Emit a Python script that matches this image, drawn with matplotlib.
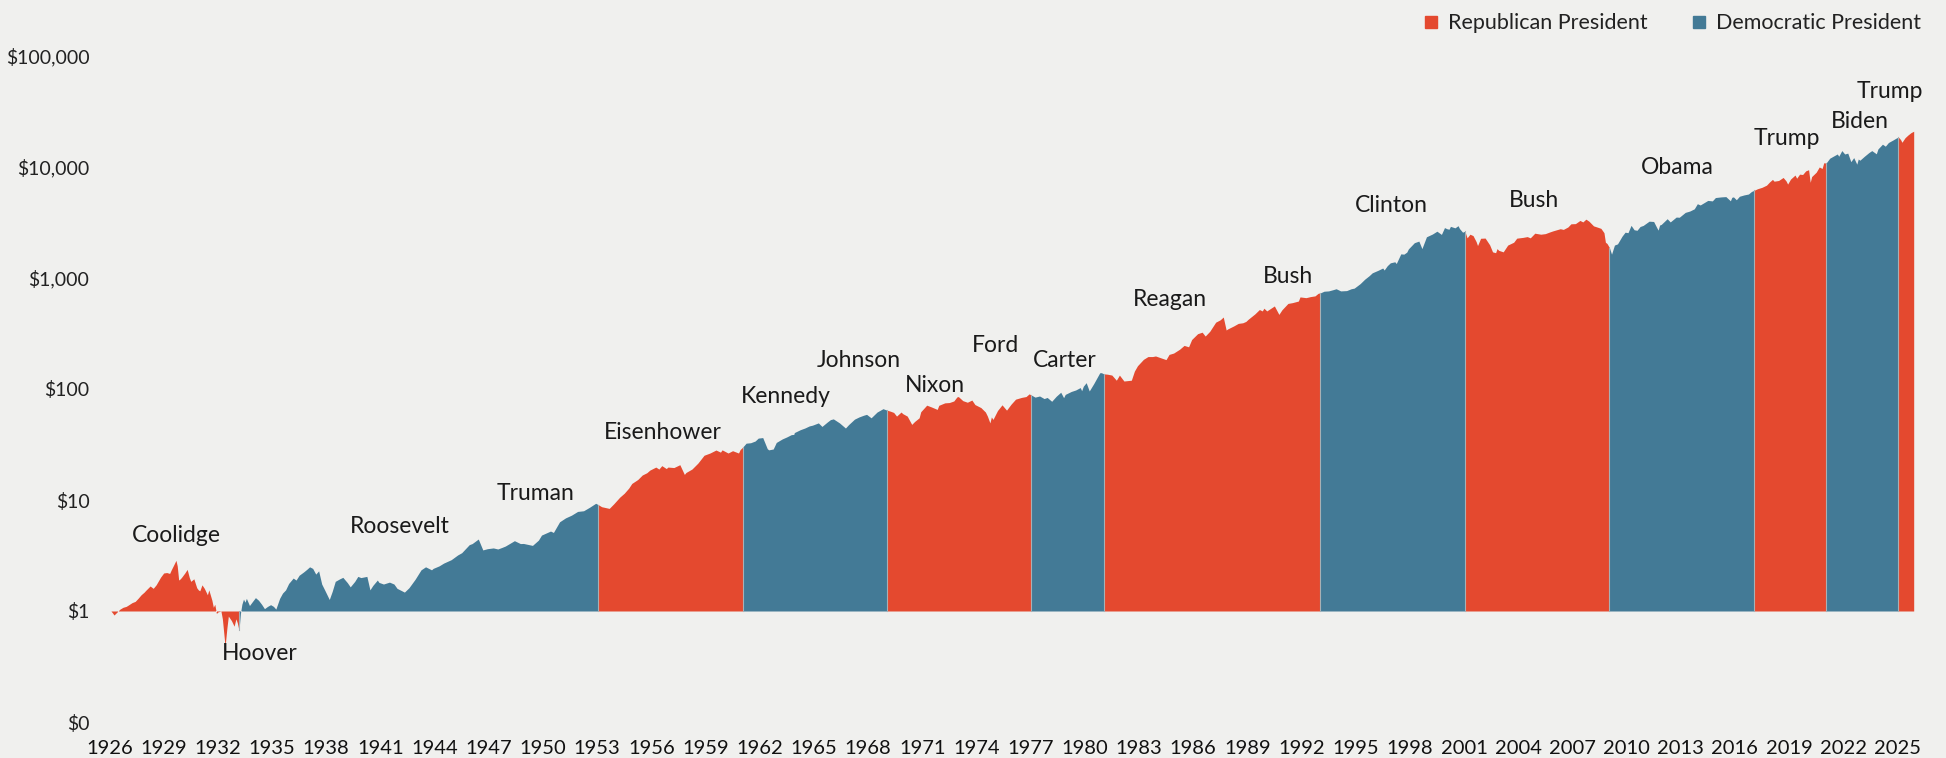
import numpy as np
import matplotlib.pyplot as plt
from matplotlib.lines import Line2D
from matplotlib.ticker import NullLocator

plt.rcParams['font.family'] = ['Lato', 'DejaVu Sans']

RED = '#E4492F'
BLUE = '#437A96'
BG = '#F0F0EE'

# growth of $1 invested in Jan 1926 (log scale)
dates = [
    1926.08, 1926.17, 1926.25, 1926.42, 1926.58, 1926.75, 1926.92,
    1927.00, 1927.25, 1927.42, 1927.58, 1927.75, 1927.92,
    1928.00, 1928.25, 1928.42, 1928.58, 1928.83,
    1929.00, 1929.17, 1929.33, 1929.42, 1929.58, 1929.68, 1929.75, 1929.83, 1929.92,
    1930.00, 1930.17, 1930.30, 1930.42, 1930.50, 1930.67, 1930.83, 1930.92,
    1931.00, 1931.12, 1931.25, 1931.42, 1931.50, 1931.67, 1931.75, 1931.83, 1931.92,
    1932.00, 1932.17, 1932.25, 1932.40, 1932.50, 1932.58, 1932.75, 1932.90,
    1933.00, 1933.08, 1933.17, 1933.25, 1933.33, 1933.42, 1933.50, 1933.58, 1933.75, 1933.92,
    1934.08, 1934.25, 1934.42, 1934.58, 1934.75, 1934.92,
    1935.08, 1935.21, 1935.42, 1935.58, 1935.75, 1935.92,
    1936.17, 1936.33, 1936.50, 1936.75, 1936.92,
    1937.08, 1937.25, 1937.42, 1937.58, 1937.75, 1937.92,
    1938.17, 1938.33, 1938.50, 1938.75, 1938.92,
    1939.17, 1939.33, 1939.58, 1939.75, 1939.92,
    1940.25, 1940.42, 1940.58, 1940.83, 1940.92,
    1941.17, 1941.50, 1941.75, 1941.92,
    1942.33, 1942.58, 1942.92,
    1943.25, 1943.50, 1943.83, 1943.92,
    1944.25, 1944.50, 1944.92,
    1945.28, 1945.50, 1945.92,
    1946.08, 1946.42, 1946.67, 1946.92,
    1947.25, 1947.50, 1947.75, 1947.92,
    1948.42, 1948.75, 1948.92,
    1949.42, 1949.75, 1949.92,
    1950.42, 1950.58, 1950.92,
    1951.25, 1951.58, 1951.92,
    1952.25, 1952.58, 1952.92,
    1953.05, 1953.25, 1953.67, 1953.92,
    1954.25, 1954.50, 1954.75, 1954.92,
    1955.25, 1955.50, 1955.75, 1955.92,
    1956.25, 1956.42, 1956.58, 1956.83, 1956.92,
    1957.25, 1957.58, 1957.83, 1957.92,
    1958.25, 1958.58, 1958.92,
    1959.25, 1959.58, 1959.83, 1959.92,
    1960.25, 1960.50, 1960.83, 1960.92,
    1961.05, 1961.25, 1961.50, 1961.75, 1961.92,
    1962.17, 1962.42, 1962.50, 1962.75, 1962.92,
    1963.25, 1963.50, 1963.75, 1963.89, 1963.92,
    1964.25, 1964.50, 1964.75, 1964.92,
    1965.25, 1965.45, 1965.75, 1965.92,
    1966.08, 1966.42, 1966.75, 1966.92,
    1967.25, 1967.50, 1967.75, 1967.92,
    1968.17, 1968.50, 1968.83, 1968.92,
    1969.05, 1969.25, 1969.42, 1969.58, 1969.83, 1969.92,
    1970.17, 1970.42, 1970.58, 1970.83, 1970.92,
    1971.25, 1971.50, 1971.83, 1971.92,
    1972.25, 1972.50, 1972.75, 1972.92,
    1973.00, 1973.25, 1973.50, 1973.75, 1973.92,
    1974.25, 1974.50, 1974.61, 1974.75, 1974.83, 1974.92,
    1975.17, 1975.42, 1975.67, 1975.92,
    1976.17, 1976.50, 1976.75, 1976.92,
    1977.05, 1977.25, 1977.50, 1977.75, 1977.92,
    1978.17, 1978.42, 1978.67, 1978.83, 1978.92,
    1979.25, 1979.50, 1979.75, 1979.83, 1979.92,
    1980.08, 1980.25, 1980.50, 1980.83, 1980.92,
    1981.05, 1981.25, 1981.50, 1981.75, 1981.92,
    1982.17, 1982.58, 1982.75, 1982.92,
    1983.25, 1983.50, 1983.75, 1983.92,
    1984.25, 1984.50, 1984.67, 1984.92,
    1985.25, 1985.50, 1985.75, 1985.92,
    1986.25, 1986.50, 1986.67, 1986.92,
    1987.25, 1987.50, 1987.67, 1987.83, 1987.92,
    1988.25, 1988.50, 1988.75, 1988.92,
    1989.05, 1989.42, 1989.67, 1989.83, 1989.92,
    1990.08, 1990.50, 1990.75, 1990.92,
    1991.25, 1991.50, 1991.83, 1991.92,
    1992.25, 1992.50, 1992.75, 1992.92,
    1993.05, 1993.25, 1993.50, 1993.75, 1993.92,
    1994.17, 1994.50, 1994.75, 1994.92,
    1995.25, 1995.50, 1995.75, 1995.92,
    1996.25, 1996.50, 1996.58, 1996.75, 1996.92,
    1997.17, 1997.25, 1997.50, 1997.67, 1997.83, 1997.92,
    1998.25, 1998.50, 1998.67, 1998.83, 1998.92,
    1999.25, 1999.50, 1999.75, 1999.92,
    2000.05, 2000.17, 2000.25, 2000.50, 2000.67, 2000.75, 2000.92,
    2001.05, 2001.17, 2001.33, 2001.50, 2001.67, 2001.75, 2001.92,
    2002.17, 2002.42, 2002.58, 2002.75, 2002.83, 2002.92,
    2003.17, 2003.42, 2003.75, 2003.92,
    2004.25, 2004.50, 2004.67, 2004.92,
    2005.25, 2005.50, 2005.75, 2005.92,
    2006.33, 2006.50, 2006.75, 2006.92,
    2007.17, 2007.42, 2007.58, 2007.75, 2007.92,
    2008.17, 2008.42, 2008.58, 2008.75, 2008.83, 2008.92,
    2009.05, 2009.17, 2009.33, 2009.50, 2009.75, 2009.92,
    2010.08, 2010.25, 2010.42, 2010.58, 2010.75, 2010.92,
    2011.25, 2011.50, 2011.67, 2011.75, 2011.83, 2011.92,
    2012.25, 2012.42, 2012.75, 2012.92,
    2013.25, 2013.50, 2013.75, 2013.92,
    2014.08, 2014.50, 2014.75, 2014.92,
    2015.25, 2015.50, 2015.67, 2015.75, 2015.83, 2015.92,
    2016.08, 2016.25, 2016.50, 2016.75, 2016.92,
    2017.05, 2017.25, 2017.50, 2017.75, 2017.92,
    2018.08, 2018.17, 2018.42, 2018.67, 2018.83, 2018.92,
    2019.08, 2019.33, 2019.42, 2019.58, 2019.75, 2019.92,
    2020.08, 2020.17, 2020.25, 2020.50, 2020.67, 2020.83, 2020.92,
    2021.05, 2021.25, 2021.50, 2021.67, 2021.75, 2021.92,
    2022.08, 2022.25, 2022.42, 2022.58, 2022.75, 2022.83, 2022.92,
    2023.17, 2023.42, 2023.58, 2023.83, 2023.92,
    2024.17, 2024.33, 2024.50, 2024.75, 2024.92,
    2025.05, 2025.17, 2025.25, 2025.42, 2025.58, 2025.75, 2025.90,
]
growth = [
    1.00, 0.96, 0.92, 0.98, 1.04, 1.08, 1.10,
    1.12, 1.19, 1.22, 1.30, 1.40, 1.48,
    1.53, 1.68, 1.60, 1.72, 2.02,
    2.20, 2.22, 2.18, 2.35, 2.65, 2.86, 2.55, 1.90, 1.95,
    2.02, 2.20, 2.37, 2.00, 1.85, 1.95, 1.62, 1.55,
    1.52, 1.72, 1.60, 1.40, 1.55, 1.25, 1.08, 1.15, 0.95,
    0.98, 1.00, 0.85, 0.48, 0.70, 0.90, 0.82, 0.73,
    0.85, 0.78, 0.67, 0.95, 1.15, 1.28, 1.20, 1.30, 1.12, 1.22,
    1.32, 1.25, 1.15, 1.05, 1.10, 1.14,
    1.10, 1.04, 1.30, 1.45, 1.55, 1.77,
    1.98, 1.90, 2.10, 2.25, 2.37,
    2.50, 2.42, 2.15, 2.30, 1.75, 1.54,
    1.27, 1.50, 1.85, 1.95, 2.01,
    1.80, 1.65, 1.85, 2.05, 2.00,
    2.05, 1.55, 1.70, 1.90, 1.81,
    1.75, 1.82, 1.75, 1.60,
    1.48, 1.62, 1.93,
    2.35, 2.50, 2.35, 2.42,
    2.55, 2.70, 2.90,
    3.20, 3.35, 3.96,
    4.05, 4.45, 3.55, 3.64,
    3.70, 3.62, 3.75, 3.85,
    4.30, 4.05, 4.06,
    3.90, 4.35, 4.83,
    5.25, 5.10, 6.36,
    6.90, 7.30, 7.89,
    8.00, 8.60, 9.34,
    9.10, 8.70, 8.40, 9.24,
    10.6, 11.5, 12.8, 14.1,
    15.3, 16.8, 17.6, 18.6,
    19.8, 19.0, 20.4, 19.2, 19.8,
    19.6, 20.8, 17.0, 17.7,
    19.0, 21.5, 25.3,
    26.5, 28.2, 27.0, 28.3,
    26.5, 27.8, 26.5, 28.5,
    29.8, 32.5, 32.8, 34.0, 36.1,
    36.5, 29.0, 28.3, 28.8, 33.0,
    35.5, 37.0, 38.8, 39.0, 40.5,
    43.0, 44.5, 46.5, 47.2,
    49.5, 46.0, 50.5, 53.0,
    53.8, 49.5, 44.5, 47.7,
    53.5, 56.0, 58.0, 59.1,
    55.0, 62.0, 66.5, 65.6,
    64.5, 63.0, 61.5, 57.0, 62.0, 60.0,
    57.0, 48.0, 51.0, 55.0, 62.4,
    71.5, 69.0, 65.5, 71.3,
    75.0, 75.5, 78.0, 84.8,
    85.5, 78.5, 76.0, 79.5, 72.4,
    68.0, 62.0, 57.0, 49.5, 56.0, 53.2,
    64.0, 72.0, 64.5, 73.0,
    81.0, 84.0, 85.5, 90.4,
    88.0, 84.5, 86.5, 82.0, 83.9,
    77.5, 86.0, 93.5, 83.5, 89.4,
    95.0, 98.0, 103.0, 96.5, 105.9,
    114.0, 96.0, 112.0, 140.0, 140.3,
    137.0, 136.0, 133.5, 120.0, 133.4,
    118.0, 120.0, 145.0, 162.0,
    185.0, 196.0, 196.0, 198.4,
    190.0, 184.0, 205.0, 210.7,
    228.0, 247.0, 240.0, 279.1,
    315.0, 325.0, 300.0, 330.7,
    400.0, 420.0, 445.0, 340.0, 348.0,
    370.0, 390.0, 395.0, 406.1,
    425.0, 475.0, 520.0, 505.0, 534.5,
    505.0, 560.0, 470.0, 517.5,
    590.0, 600.0, 620.0, 675.6,
    665.0, 680.0, 690.0, 727.4,
    735.0, 760.0, 765.0, 785.0, 800.1,
    765.0, 770.0, 800.0, 810.5,
    890.0, 975.0, 1050.0, 1113.9,
    1175.0, 1230.0, 1180.0, 1290.0, 1370.0,
    1400.0, 1350.0, 1650.0, 1640.0, 1710.0, 1828.3,
    2080.0, 2150.0, 1840.0, 2150.0, 2350.8,
    2490.0, 2640.0, 2470.0, 2845.6,
    2780.0, 2750.0, 2920.0, 2830.0, 2960.0, 2790.0, 2586.5,
    2640.0, 2300.0, 2480.0, 2410.0, 2130.0, 1960.0, 2279.1,
    2290.0, 1990.0, 1720.0, 1690.0, 1840.0, 1775.3,
    1720.0, 1980.0, 2100.0, 2284.8,
    2320.0, 2360.0, 2300.0, 2533.2,
    2480.0, 2510.0, 2600.0, 2657.6,
    2780.0, 2740.0, 2880.0, 3077.3,
    3090.0, 3300.0, 3200.0, 3390.0, 3246.3,
    2950.0, 2860.0, 2800.0, 2560.0, 2100.0, 2045.3,
    1880.0, 1640.0, 1980.0, 2030.0, 2380.0, 2586.5,
    2560.0, 2980.0, 2720.0, 2690.0, 2910.0, 2976.2,
    3250.0, 3230.0, 2850.0, 2700.0, 3000.0, 3039.1,
    3420.0, 3200.0, 3540.0, 3525.6,
    3900.0, 4010.0, 4200.0, 4667.6,
    4550.0, 5000.0, 4950.0, 5306.3,
    5380.0, 5410.0, 5100.0, 4960.0, 5330.0, 5379.9,
    5070.0, 5450.0, 5600.0, 5710.0, 6023.3,
    6150.0, 6370.0, 6560.0, 6860.0, 7338.0,
    7730.0, 7450.0, 7560.0, 8050.0, 7500.0, 7016.4,
    7780.0, 8460.0, 7920.0, 8620.0, 8560.0, 9225.5,
    9450.0, 7280.0, 8200.0, 8970.0, 10000.0, 9700.0, 10922.7,
    10850.0, 12000.0, 12650.0, 13100.0, 12500.0, 14058.0,
    13100.0, 13330.0, 11170.0, 12150.0, 10600.0, 11800.0, 11512.0,
    12500.0, 13500.0, 14050.0, 13150.0, 14538.0,
    16050.0, 15400.0, 16620.0, 17500.0, 18178.0,
    18600.0, 17700.0, 16700.0, 18350.0, 19400.0, 20400.0, 21000.0,
]

# presidents: name, party, start of term
term_names = ['Coolidge', 'Hoover', 'Roosevelt', 'Truman', 'Eisenhower', 'Kennedy',
              'Johnson', 'Nixon', 'Ford', 'Carter', 'Reagan', 'Bush', 'Clinton',
              'Bush', 'Obama', 'Trump', 'Biden', 'Trump']
term_party = ['R', 'R', 'D', 'D', 'R', 'D', 'D', 'R', 'R', 'D', 'R', 'R', 'D',
              'R', 'D', 'R', 'D', 'R']
term_start = [1926.0, 1929.17, 1933.17, 1945.28, 1953.05, 1961.05, 1963.89,
              1969.05, 1974.61, 1977.05, 1981.05, 1989.05, 1993.05, 2001.05,
              2009.05, 2017.05, 2021.05, 2025.05]

# where each name sits (year, $ value)
label_x = [1929.7, 1934.3, 1942.1, 1949.6, 1956.65, 1963.45, 1967.5, 1971.7,
           1975.05, 1978.9, 1984.7, 1991.25, 1997.0, 2004.9, 2012.8, 2018.9,
           2022.9, 2024.6]
label_y = [4.8, 0.41, 5.8, 11.5, 40.7, 86, 182, 108, 247, 182, 643, 1037,
           4520, 5010, 9800, 18200, 25700, 48000]

year_ticks = list(range(1926, 2026, 3))
y_ticks = [0.1, 1, 10, 100, 1000, 10000, 100000]
y_tick_labels = ['$0', '$1', '$10', '$100', '$1,000', '$10,000', '$100,000']

colors = {'R': RED, 'D': BLUE}

d = np.array(dates)
v = np.array(growth)

fig = plt.figure(figsize=(19.46, 7.58), dpi=100, facecolor=BG)
ax = fig.add_axes([109.5 / 1946, 36 / 758, 1806 / 1946, 666 / 758])
ax.set_facecolor(BG)
ax.set_yscale('log')
ax.set_xlim(1926, 2026)
ax.set_ylim(0.1, 100000)

# merge consecutive terms of the same party into one filled block
runs = []
for i in range(len(term_names)):
    if runs and runs[-1][0] == term_party[i]:
        continue
    runs.append([term_party[i], term_start[i]])
for i, (party, start) in enumerate(runs):
    stop = runs[i + 1][1] if i + 1 < len(runs) else d[-1]
    m = (d >= start) & (d <= stop)
    ax.fill_between(d[m], 1, v[m], color=colors[party], lw=0, zorder=2)
    if i > 0:
        ax.plot([start, start], [1, v[d == start][0]], color='#A9B0B4', lw=0.8, zorder=3)

for name, lx, ly in zip(term_names, label_x, label_y):
    ax.text(lx, ly, name, ha='center', va='center', fontsize=16.5, color='#1a1a1a')

ax.set_yticks(y_ticks)
ax.set_yticklabels(y_tick_labels)
ax.yaxis.set_minor_locator(NullLocator())
ax.set_xticks(year_ticks)
ax.set_xticklabels([str(y) for y in year_ticks])
ax.tick_params(axis='y', length=0, pad=14.5, labelsize=14, labelcolor='#222222')
ax.tick_params(axis='x', length=0, pad=13, labelsize=14.5, labelcolor='#111111')
for s in ax.spines.values():
    s.set_visible(False)

handles = [Line2D([], [], marker='s', ls='', color=RED, markersize=9),
           Line2D([], [], marker='s', ls='', color=BLUE, markersize=9)]
fig.legend(handles, ['Republican President', 'Democratic President'],
           loc='upper right', bbox_to_anchor=(0.997, 1.008), ncol=2, frameon=False,
           fontsize=15.5, handlelength=0.7, handletextpad=0.45, columnspacing=2.0,
           labelcolor='#222222')

fig.savefig('out.png', dpi=100, facecolor=BG)
